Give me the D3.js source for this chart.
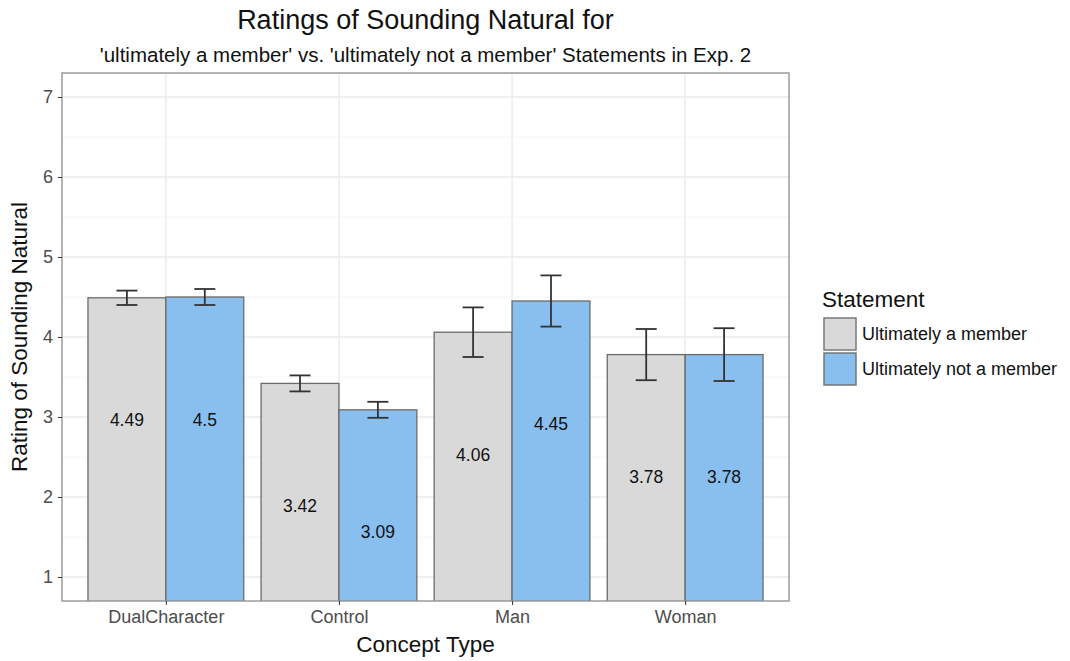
<!DOCTYPE html>
<html><head><meta charset="utf-8">
<script src="https://cdn.jsdelivr.net/npm/d3@7"></script>
<style>body{margin:0;background:#fff;} text{font-family:"Liberation Sans",Arial,Helvetica,sans-serif;}</style>
</head><body>
<svg id="c" width="1070" height="661"></svg>
<script>
const categories = ["DualCharacter","Control","Man","Woman"];
const seriesNames = ["Ultimately a member","Ultimately not a member"];
const memberVals = [4.49,3.42,4.06,3.78];
const notMemberVals = [4.50,3.09,4.45,3.78];
const memberLo = [4.40,3.32,3.75,3.46];
const memberHi = [4.58,3.52,4.37,4.10];
const notMemberLo = [4.40,2.99,4.13,3.45];
const notMemberHi = [4.60,3.19,4.77,4.11];
const yTicks = [1,2,3,4,5,6,7];
const yMinor = [1.5,2.5,3.5,4.5,5.5,6.5];
const colors = ["#d9d9d9","#88bfee"];

const svg = d3.select("#c");
const L=62,R=789,T=73,B=601;
const step=(R-L)/(categories.length-1+1.2);
const xC = d3.scalePoint().domain(categories).range([L+0.6*step, R-0.6*step]);
const y = d3.scaleLinear().domain([0.7,7.3]).range([B,T]);
const barW = 0.45*step;

const g = svg.append("g");
g.selectAll(".minor").data(yMinor).enter().append("line")
 .attr("x1",L).attr("x2",R).attr("y1",d=>y(d)).attr("y2",d=>y(d))
 .attr("stroke","#f2f2f2").attr("stroke-width",0.8);
g.selectAll(".major").data(yTicks).enter().append("line")
 .attr("x1",L).attr("x2",R).attr("y1",d=>y(d)).attr("y2",d=>y(d))
 .attr("stroke","#ebebeb").attr("stroke-width",1.4);
g.selectAll(".vmajor").data(categories).enter().append("line")
 .attr("y1",T).attr("y2",B).attr("x1",d=>xC(d)).attr("x2",d=>xC(d))
 .attr("stroke","#ebebeb").attr("stroke-width",1.4);

const data=[];
categories.forEach((c,i)=>{
  data.push({c,s:0,v:memberVals[i],lo:memberLo[i],hi:memberHi[i]});
  data.push({c,s:1,v:notMemberVals[i],lo:notMemberLo[i],hi:notMemberHi[i]});
});
const bx = d=> xC(d.c) + (d.s===0?-barW:0);
svg.append("clipPath").attr("id","pc").append("rect").attr("x",L).attr("y",T).attr("width",R-L).attr("height",B-T);
const pg = svg.append("g").attr("clip-path","url(#pc)");
pg.selectAll(".bar").data(data).enter().append("rect")
 .attr("x",bx).attr("width",barW)
 .attr("y",d=>y(d.v)).attr("height",d=>y(0)-y(d.v))
 .attr("fill",d=>colors[d.s]).attr("stroke","#6b6b6b").attr("stroke-width",1.3);
const cap=21;
const eg = pg.selectAll(".err").data(data).enter().append("g").attr("stroke","#333").attr("stroke-width",1.8);
eg.append("line").attr("x1",d=>bx(d)+barW/2).attr("x2",d=>bx(d)+barW/2).attr("y1",d=>y(d.lo)).attr("y2",d=>y(d.hi));
eg.append("line").attr("x1",d=>bx(d)+barW/2-cap/2).attr("x2",d=>bx(d)+barW/2+cap/2).attr("y1",d=>y(d.lo)).attr("y2",d=>y(d.lo));
eg.append("line").attr("x1",d=>bx(d)+barW/2-cap/2).attr("x2",d=>bx(d)+barW/2+cap/2).attr("y1",d=>y(d.hi)).attr("y2",d=>y(d.hi));
pg.selectAll(".lbl").data(data).enter().append("text")
 .attr("x",d=>bx(d)+barW/2).attr("y",d=>y(d.v-1.53)).attr("dy","0.35em")
 .attr("text-anchor","middle").attr("font-size",17.5).attr("fill","#111")
 .text(d=>String(d.v));

svg.append("rect").attr("x",L).attr("y",T).attr("width",R-L).attr("height",B-T)
 .attr("fill","none").attr("stroke","#8c8c8c").attr("stroke-width",1.3);

const ya = svg.append("g").attr("transform",`translate(${L},0)`)
 .call(d3.axisLeft(y).tickValues(yTicks).tickFormat(d3.format("d")).tickSize(4).tickPadding(5));
ya.select(".domain").remove();
ya.attr("font-size",18).attr("font-family","Liberation Sans, Arial, sans-serif");
ya.selectAll("line").attr("stroke","#333");
ya.selectAll("text").attr("fill","#4d4d4d");
const xa = svg.append("g").attr("transform",`translate(0,${B})`).call(d3.axisBottom(xC).tickSize(4).tickPadding(5));
xa.select(".domain").remove();
xa.attr("font-size",18).attr("font-family","Liberation Sans, Arial, sans-serif");
xa.selectAll("line").attr("stroke","#333");
xa.selectAll("text").attr("fill","#4d4d4d");

svg.append("text").attr("x",(L+R)/2).attr("y",29).attr("text-anchor","middle").attr("font-size",27).attr("fill","#111").text("Ratings of Sounding Natural for");
svg.append("text").attr("x",(L+R)/2).attr("y",62).attr("text-anchor","middle").attr("font-size",20.5).attr("fill","#111").text("'ultimately a member' vs. 'ultimately not a member' Statements in Exp. 2");
svg.append("text").attr("x",(L+R)/2).attr("y",652).attr("text-anchor","middle").attr("font-size",22.5).attr("fill","#111").text("Concept Type");
svg.append("text").attr("transform",`translate(19,${(T+B)/2}) rotate(-90)`).attr("text-anchor","middle").attr("dy","0.35em").attr("font-size",22.5).attr("fill","#111").text("Rating of Sounding Natural");

const lg = svg.append("g");
lg.append("text").attr("x",822).attr("y",307).attr("font-size",22.5).attr("fill","#111").text("Statement");
seriesNames.forEach((s,i)=>{
  const yy=317+i*35;
  lg.append("rect").attr("x",823).attr("y",yy).attr("width",34).attr("height",34).attr("fill","#f2f2f2");
  lg.append("rect").attr("x",824).attr("y",yy+1).attr("width",32).attr("height",32).attr("fill",colors[i]).attr("stroke","#6b6b6b").attr("stroke-width",1.3);
  lg.append("text").attr("x",862).attr("y",yy+17).attr("dy","0.35em").attr("font-size",18).attr("fill","#111").text(s);
});
</script>
</body></html>
